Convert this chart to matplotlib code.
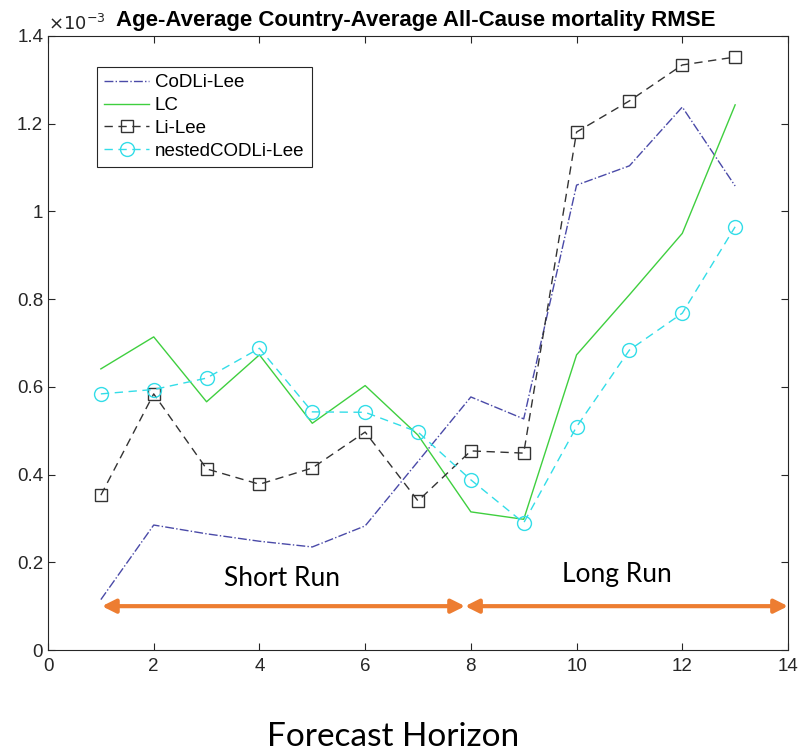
import matplotlib.pyplot as plt
from matplotlib.ticker import MultipleLocator

plt.rcParams['font.family'] = ['Liberation Sans', 'DejaVu Sans']

# --- data (values in units of 1e-3) ---
horizon = [1, 2, 3, 4, 5, 6, 7, 8, 9, 10, 11, 12, 13]
codli_lee = [0.115, 0.285, 0.265, 0.248, 0.235, 0.283, 0.43, 0.577, 0.527, 1.06, 1.104, 1.238, 1.058]
lc = [0.641, 0.714, 0.566, 0.673, 0.517, 0.603, 0.49, 0.315, 0.298, 0.673, 0.81, 0.95, 1.243]
li_lee = [0.353, 0.584, 0.413, 0.378, 0.415, 0.497, 0.34, 0.454, 0.449, 1.181, 1.252, 1.334, 1.352]
nested = [0.584, 0.594, 0.620, 0.688, 0.543, 0.542, 0.497, 0.388, 0.29, 0.509, 0.684, 0.768, 0.965]

scale = 1e-3
orange = '#ED7D31'
side_font = ['Lato', 'DejaVu Sans']

fig = plt.figure(figsize=(8, 7.5), dpi=100)
ax = fig.add_axes([0.06, 0.1333, 0.925, 0.8187])

ax.plot(horizon, [v * scale for v in codli_lee], '-.', color='#4a4aa8', lw=1.0, label='CoDLi-Lee')
ax.plot(horizon, [v * scale for v in lc], '-', color='#3fcf3f', lw=1.0, label='LC')
ax.plot(horizon, [v * scale for v in li_lee], '--', color='#333333', lw=1.0, marker='s',
        ms=8, mfc='none', mec='#333333', mew=1.0, dashes=(6, 4), label='Li-Lee')
ax.plot(horizon, [v * scale for v in nested], '--', color='#33dde8', lw=1.0, marker='o',
        ms=10, mfc='none', mec='#33dde8', mew=1.0, dashes=(6, 4), label='nestedCODLi-Lee')

ax.set_xlim(0, 14)
ax.set_ylim(0, 1.4e-3)
ax.xaxis.set_major_locator(MultipleLocator(2))
ax.set_yticks([i * 0.2e-3 for i in range(8)])
ax.set_yticklabels(['0', '0.2', '0.4', '0.6', '0.8', '1', '1.2', '1.4'])
ax.tick_params(direction='in', top=True, right=True, labelsize=13.5, colors='#262626',
               length=5, width=0.8)
ax.tick_params(axis='x', pad=6)
for s in ax.spines.values():
    s.set_color('#262626')
    s.set_linewidth(0.8)

ax.text(0.0, 1.003, r'$\times10^{-3}$', transform=ax.transAxes, fontsize=13,
        color='#262626', ha='left', va='bottom')
ax.set_title('Age-Average Country-Average All-Cause mortality RMSE', fontsize=16,
             fontweight='bold', pad=7, x=0.497)

leg = ax.legend(loc='upper left', bbox_to_anchor=(0.066, 0.95), fontsize=13.5,
                fancybox=False, framealpha=1, edgecolor='#262626', handlelength=2.4,
                borderaxespad=0, labelspacing=0.3, handletextpad=0.3, borderpad=0.4)
leg.get_frame().set_linewidth(0.8)

# --- short / long run arrows ---
arrow_kw = dict(arrowstyle='<|-|>,head_length=0.8,head_width=0.4', color=orange, lw=3,
                shrinkA=0, shrinkB=0)
ax.annotate('', xy=(7.89, 0.1e-3), xytext=(1.02, 0.1e-3), arrowprops=arrow_kw,
            annotation_clip=False)
ax.annotate('', xy=(14.0, 0.1e-3), xytext=(7.89, 0.1e-3), arrowprops=arrow_kw,
            annotation_clip=False)
ax.text(4.43, 0.146e-3, 'Short Run', fontsize=19, family=side_font,
        ha='center', va='baseline')
ax.text(10.76, 0.155e-3, 'Long Run', fontsize=19, family=side_font,
        ha='center', va='baseline')

fig.text(0.491, 0.006, 'Forecast Horizon', fontsize=24, family=side_font,
         ha='center', va='baseline')

fig.savefig('out.png', dpi=100, facecolor='white')
